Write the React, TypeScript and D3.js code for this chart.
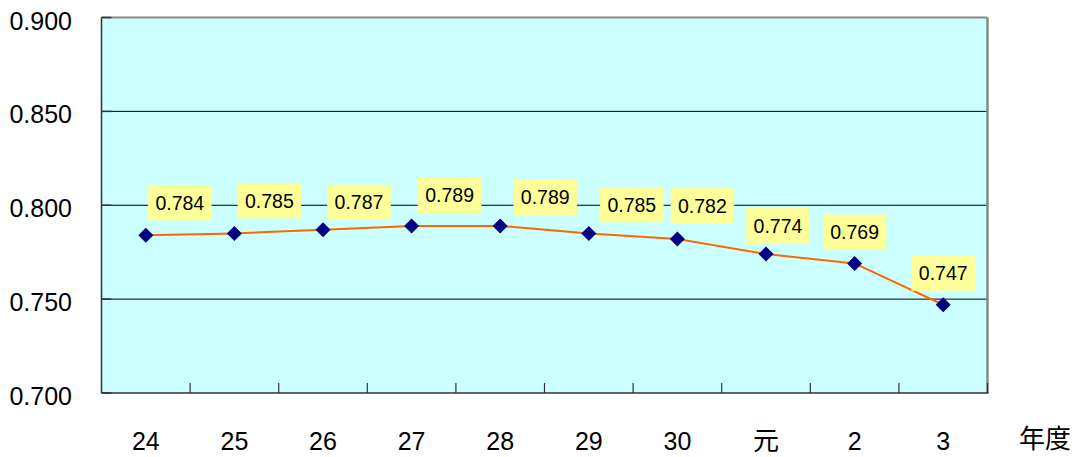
import React from "react";
import * as d3 from "d3";

const categories = ["24", "25", "26", "27", "28", "29", "30", "元", "2", "3"];
const values = [0.784, 0.785, 0.787, 0.789, 0.789, 0.785, 0.782, 0.774, 0.769, 0.747];
const yTicks = [0.7, 0.75, 0.8, 0.85, 0.9];
const xAxisTitle = "年度";
// manual data-label placement (offset of box centre / bottom from point), px
const labelDx = [34, 35, 36, 38, 45, 43, 25, 12, 0, 0];
const labelDy = [-15, -15, -10, -13, -11, -11, -16, -11, -14, -14];

const W = 1077;
const H = 457;
const left = 101.5;
const right = 987.5;
const top = 17.5;
const bottom = 393;

export default function App() {
  const x = d3.scaleBand<string>().domain(categories).range([left, right]).padding(0);
  const y = d3.scaleLinear().domain([0.7, 0.9]).range([bottom, top]);
  const cx = (c: string) => (x(c) as number) + x.bandwidth() / 2;
  const line = d3
    .line<number>()
    .x((_, i) => cx(categories[i]))
    .y((d) => y(d));
  const boundaries = categories.slice(1).map((c) => x(c) as number);
  const boxW = 63.5;
  const boxH = 35;
  const diamond = 7.5;

  return (
    <svg
      width={W}
      height={H}
      style={{ position: "absolute", left: 0, top: 0 }}
      fontFamily="'Liberation Sans', Arial, sans-serif"
    >
      <rect x={0} y={0} width={W} height={H} fill="#ffffff" />
      <rect x={left} y={top} width={right - left} height={bottom - top} fill="#ccffff" />
      {yTicks
        .filter((t) => t > 0.7 && t < 0.9)
        .map((t) => (
          <line key={t} x1={left} x2={right} y1={y(t)} y2={y(t)} stroke="#000" strokeWidth={1} />
        ))}
      {/* top & right border */}
      <line x1={left} x2={right} y1={top} y2={top} stroke="#888" strokeWidth={2} />
      <line x1={right} x2={right} y1={top} y2={bottom} stroke="#888" strokeWidth={2.5} />
      {/* y ticks */}
      {yTicks.map((t) => (
        <line key={"yt" + t} x1={left} x2={left + 10} y1={y(t)} y2={y(t)} stroke="#333" strokeWidth={1.5} />
      ))}
      {/* x ticks */}
      {boundaries.map((b, i) => (
        <line key={"xt" + i} x1={b} x2={b} y1={bottom} y2={bottom - 10} stroke="#333" strokeWidth={1.2} />
      ))}
      <line x1={right} x2={right} y1={bottom} y2={bottom - 10} stroke="#333" strokeWidth={1.2} />
      {/* axes */}
      <line x1={left} x2={left} y1={top} y2={bottom} stroke="#333" strokeWidth={1.5} />
      <line x1={left} x2={right + 1} y1={bottom} y2={bottom} stroke="#333" strokeWidth={1.5} />
      {/* y labels */}
      {yTicks.map((t) => (
        <text key={"yl" + t} x={72} y={y(t) + 12} textAnchor="end" fontSize={25} fill="#000">
          {d3.format(".3f")(t)}
        </text>
      ))}
      {/* x labels */}
      {categories.map((c) => (
        <text
          key={"xl" + c}
          x={cx(c)}
          y={450}
          textAnchor="middle"
          fontSize={c === "元" ? 26 : 25}
          fontFamily={c === "元" ? "'Noto Sans CJK JP', sans-serif" : undefined}
          fill="#000"
        >
          {c}
        </text>
      ))}
      <text x={1045} y={448} textAnchor="middle" fontSize={26} fontFamily="'Noto Sans CJK JP', sans-serif" fill="#000">
        {xAxisTitle}
      </text>
      {/* series */}
      <path d={line(values) || ""} fill="none" stroke="#ff6600" strokeWidth={2} />
      {values.map((v, i) => {
        const px = cx(categories[i]);
        const py = y(v);
        return (
          <path
            key={"m" + i}
            d={`M${px},${py - diamond}L${px + diamond},${py}L${px},${py + diamond}L${px - diamond},${py}Z`}
            fill="#000080"
          />
        );
      })}
      {/* data labels */}
      {values.map((v, i) => {
        const px = cx(categories[i]) + labelDx[i];
        const by = y(v) + labelDy[i];
        return (
          <g key={"l" + i}>
            <rect x={px - boxW / 2} y={by - boxH} width={boxW} height={boxH} fill="#ffff99" />
            <text x={px} y={by - boxH / 2 + 7} textAnchor="middle" fontSize={19.5} fill="#000">
              {d3.format(".3f")(v)}
            </text>
          </g>
        );
      })}
    </svg>
  );
}
